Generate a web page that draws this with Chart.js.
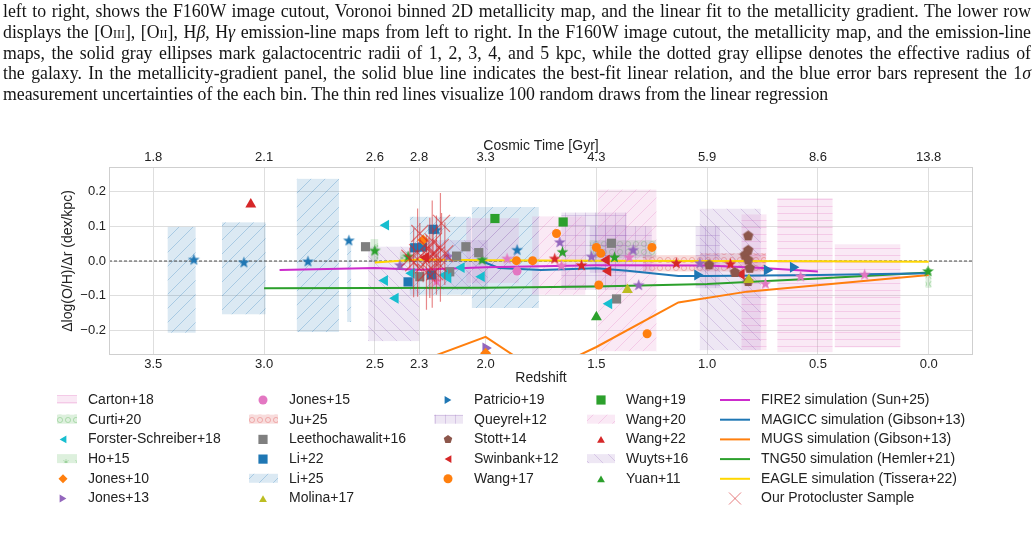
<!DOCTYPE html>
<html>
<head>
<meta charset="utf-8">
<script src="https://cdn.jsdelivr.net/npm/chart.js@4.4.1/dist/chart.umd.min.js"></script>
<style>
  html, body { margin:0; padding:0; background:#fff; }
  #page { position:relative; width:1036px; height:536px; overflow:hidden; }
  #grafico { position:absolute; left:0; top:0; }
  #legenda { position:absolute; left:3px; top:1px; width:1028px; font-family:"Liberation Serif","Times New Roman",serif; font-size:17.8px; line-height:20.8px; color:#141414; }
  #legenda div { white-space:nowrap; height:20.8px; }
  .sc { font-variant:small-caps; }
</style>
</head>
<body>
<div id="page">
  <canvas id="grafico" width="1036" height="536"></canvas>
  <div id="legenda">
    <div><span>left to right, shows the F160W image cutout, Voronoi binned 2D metallicity map, and the linear fit to the metallicity gradient. The lower row</span></div>
    <div><span>displays the [O<span class="sc">iii</span>], [O<span class="sc">ii</span>], H<i>β</i>, H<i>γ</i> emission-line maps from left to right. In the F160W image cutout, the metallicity map, and the emission-line</span></div>
    <div><span>maps, the solid gray ellipses mark galactocentric radii of 1, 2, 3, 4, and 5 kpc, while the dotted gray ellipse denotes the effective radius of</span></div>
    <div><span>the galaxy. In the metallicity-gradient panel, the solid blue line indicates the best-fit linear relation, and the blue error bars represent the 1<i>σ</i></span></div>
    <div class="fim"><span>measurement uncertainties of the each bin. The thin red lines visualize 100 random draws from the linear regression</span></div>
  </div>
</div>
<script>
// eixos
var zTicks = [3.5, 3.0, 2.5, 2.3, 2.0, 1.5, 1.0, 0.5, 0.0];
var cosmicTime = ["1.8", "2.1", "2.6", "2.8", "3.3", "4.3", "5.9", "8.6", "13.8"];
var gradTicks = [-0.2, -0.1, 0.0, 0.1, 0.2];

// caixas: [z_alto, z_baixo, grad_min, grad_max]
var carton18 = [[0.845, 0.732, -0.256, 0.134], [0.683, 0.434, -0.262, 0.181], [0.424, 0.128, -0.248, 0.048]];
var curti20 = [[1.53, 1.23, 0.01, 0.06], [0.014, -0.012, -0.077, -0.02]];
var ho15 = [[2.519, 2.485, -0.002, 0.063], [2.387, 2.342, -0.007, 0.027]];
var ju25 = [[1.29, 1.03, -0.03, 0.017], [1.03, 0.735, -0.03, 0.022]];
var li25 = [[3.435, 3.309, -0.206, 0.098], [3.19, 2.993, -0.153, 0.111], [2.852, 2.662, -0.204, 0.236],
            [2.625, 2.607, -0.175, 0.05], [2.342, 2.066, -0.097, 0.127], [2.062, 1.76, -0.135, 0.155]];
var queyrel12 = [[1.658, 1.364, -0.083, 0.139], [1.53, 1.25, -0.034, 0.1], [1.051, 0.943, -0.078, 0.1]];
var wang20 = [[1.494, 1.229, -0.259, 0.205], [1.79, 1.55, -0.097, 0.128], [2.087, 1.85, -0.063, 0.123]];
var wuyts16 = [[2.53, 2.30, -0.23, 0.041], [2.26, 1.99, -0.083, 0.06], [1.033, 0.758, -0.256, 0.15]];

// pontos observados
var forsterZ = [2.45, 2.455, 2.407, 2.334, 2.109, 2.018, 2.184, 2.169, 1.443];
var forsterG = [0.103, -0.056, -0.107, -0.035, -0.019, -0.045, -0.04, -0.048, -0.123];
var jones10Z = [2.282, 2.0];
var jones10G = [0.06, -0.265];
var jones13Z = [2.0];
var jones13G = [-0.25];
var jones15Z = [1.858];
var jones15G = [-0.029];
var leethoZ = [2.542, 2.089, 2.131, 2.031, 2.297, 2.162, 1.432, 1.409];
var leethoG = [0.041, 0.041, 0.014, 0.024, -0.045, -0.031, 0.051, -0.109];
var li22Z = [2.35, 2.32, 2.285, 2.244, 2.237];
var li22G = [-0.06, 0.038, 0.04, -0.04, 0.091];
var molinaZ = [1.36, 0.812];
var molinaG = [-0.083, -0.054];
var patricioZ = [1.044, 0.73, 0.612];
var patricioG = [-0.04, -0.026, -0.018];
var stottZ = [0.815, 0.815, 0.83, 0.815, 0.808, 0.875, 0.815, 0.991];
var stottG = [0.072, 0.031, 0.017, 0.003, -0.021, -0.033, -0.059, -0.011];
var swinbankZ = [1.454, 1.447, 0.845, 2.27];
var swinbankG = [0.003, -0.029, -0.038, 0.01];
var wang17Z = [1.68, 1.861, 1.788, 1.5, 1.48, 1.249, 1.489, 1.271];
var wang17G = [0.079, 0.001, 0.001, 0.039, 0.022, 0.039, -0.069, -0.209];
var wang19Z = [1.958, 1.65];
var wang19G = [0.122, 0.112];
var wang22Z = [3.06];
var wang22G = [0.163];
var yuanZ = [1.5];
var yuanG = [-0.161];

// estrelas (medianas das amostras)
var starBlueZ = [3.317, 3.091, 2.802, 2.617, 1.858, 2.222];
var starBlueG = [0.003, -0.005, -0.002, 0.058, 0.031, 0.089];
var starGreenZ = [2.5, 2.016, 1.653, 1.418, 0.003, 2.35];
var starGreenG = [0.029, 0.003, 0.025, 0.01, -0.03, 0.012];
var starPurpleZ = [2.387, 1.665, 1.522, 1.334, 1.309, 2.169, 1.033];
var starPurpleG = [-0.013, 0.053, 0.012, 0.031, -0.07, 0.012, -0.007];
var starRedZ = [1.688, 1.567, 1.139, 0.895];
var starRedG = [0.006, -0.013, -0.007, -0.009];
var starPinkZ = [1.903, 1.658, 1.352, 0.737, 0.578, 0.289, 2.222];
var starPinkG = [0.006, -0.014, 0.01, -0.066, -0.045, -0.04, -0.059];

// simulacoes
var fire2Z = [2.93, 2.5, 2.3, 2.0, 1.5, 1.0, 0.75, 0.5];
var fire2G = [-0.026, -0.02, -0.025, -0.018, -0.012, -0.013, -0.02, -0.03];
var magiccZ = [2.02, 1.94, 1.75, 1.5, 1.36, 1.13, 1.0, 0.5, 0.0];
var magiccG = [0.0, -0.02, -0.026, -0.021, -0.028, -0.043, -0.043, -0.04, -0.035];
var mugsZ = [2.5, 2.0, 1.75, 1.5, 1.13, 0.82, 0.0];
var mugsG = [-0.336, -0.218, -0.323, -0.247, -0.119, -0.088, -0.04];
var tng50Z = [3.0, 2.0, 1.5, 1.0, 0.5, 0.0];
var tng50G = [-0.078, -0.077, -0.073, -0.066, -0.05, -0.033];
var eagleZ = [2.5, 2.3, 2.0, 1.5, 1.0, 0.5, 0.0];
var eagleG = [-0.004, 0.004, 0.002, 0.001, 0.0, -0.001, -0.002];

// amostra de protoaglomerado
var protoZ = [2.307, 2.325, 2.267, 2.241, 2.204, 2.222, 2.252, 2.184, 2.199, 2.297, 2.259, 2.342, 2.229, 2.237, 2.214, 2.282];
var protoG = [0.024, -0.005, -0.033, 0.02, 0.039, 0.017, 0.009, 0.021, 0.108, 0.079, 0.036, 0.008, -0.031, 0.055, -0.007, -0.011];
var protoErr = [0.127, 0.099, 0.107, 0.154, 0.156, 0.114, 0.115, 0.09, 0.03, 0.03, 0.03, 0.03, 0.03, 0.04, 0.05, 0.05];

var zeroLineZ = [3.7, -0.2];

var fonte = "'Liberation Sans', Arial, Helvetica, sans-serif";

function pares(z, g) { return z.map(function (v, i) { return { x: v, y: g[i] }; }); }
function rgba(c, a) { return "rgba(" + c[0] + "," + c[1] + "," + c[2] + "," + a + ")"; }

function poligono(cor, R, n, interno) {
    var c = document.createElement("canvas");
    var s = Math.ceil(2 * R + 2);
    c.width = s; c.height = s;
    var g = c.getContext("2d");
    g.fillStyle = cor;
    g.beginPath();
    var k = interno ? 2 * n : n;
    for (var i = 0; i < k; i++) {
        var r = (interno && i % 2) ? R * interno : R;
        var a = -Math.PI / 2 + i * 2 * Math.PI / k;
        g.lineTo(s / 2 + r * Math.cos(a), s / 2 + r * Math.sin(a));
    }
    g.closePath();
    g.fill();
    return c;
}

var padroes = {};
function padrao(tipo, cor) {
    var chave = tipo + cor.join(",");
    if (padroes[chave]) return padroes[chave];
    var c = document.createElement("canvas");
    var g = c.getContext("2d");
    var s = 14;
    if (tipo == "-") { c.width = 8; c.height = 7; }
    else if (tipo == "+") { c.width = 10; c.height = 10; }
    else if (tipo == "o") { c.width = 8; c.height = 8; }
    else if (tipo == "*") { c.width = 12; c.height = 12; }
    else { c.width = s; c.height = s; }
    g.strokeStyle = rgba(cor, 0.27);
    g.lineWidth = 1;
    g.beginPath();
    if (tipo == "/") {
        g.moveTo(0, s); g.lineTo(s, 0);
        g.moveTo(-s / 2, s / 2); g.lineTo(s / 2, -s / 2);
        g.moveTo(s / 2, s * 1.5); g.lineTo(s * 1.5, s / 2);
    } else if (tipo == "\\") {
        g.moveTo(0, 0); g.lineTo(s, s);
        g.moveTo(-s / 2, s / 2); g.lineTo(s / 2, s * 1.5);
        g.moveTo(s / 2, -s / 2); g.lineTo(s * 1.5, s / 2);
    } else if (tipo == "-") {
        g.moveTo(0, 3.5); g.lineTo(8, 3.5);
    } else if (tipo == "+") {
        g.moveTo(0, 5.5); g.lineTo(10, 5.5);
        g.moveTo(5.5, 0); g.lineTo(5.5, 10);
    } else if (tipo == "o") {
        g.arc(4, 4, 2.6, 0, Math.PI * 2);
    } else if (tipo == "*") {
        for (var i = 0; i < 3; i++) {
            var a = i * Math.PI / 3 + Math.PI / 2;
            g.moveTo(6 - 3 * Math.cos(a), 6 - 3 * Math.sin(a));
            g.lineTo(6 + 3 * Math.cos(a), 6 + 3 * Math.sin(a));
        }
    }
    g.stroke();
    padroes[chave] = g.createPattern(c, "repeat");
    return padroes[chave];
}

var AZUL = "#1f77b4", LARANJA = "#ff7f0e", VERDE = "#2ca02c", VERMELHO = "#d62728", ROXO = "#9467bd",
    MARROM = "#8c564b", ROSA = "#e377c2", CINZA = "#7f7f7f", OLIVA = "#bcbd22", CIANO = "#17becf";

var conjuntosCaixa = [
    { label: "Carton+18", caixas: carton18, cor: [227, 119, 194], hachura: "-" },
    { label: "Curti+20", caixas: curti20, cor: [44, 160, 44], hachura: "o" },
    { label: "Ho+15", caixas: ho15, cor: [44, 160, 44], hachura: "*" },
    { label: "Ju+25", caixas: ju25, cor: [214, 39, 40], hachura: "o" },
    { label: "Li+25", caixas: li25, cor: [31, 119, 180], hachura: "/" },
    { label: "Queyrel+12", caixas: queyrel12, cor: [148, 103, 189], hachura: "+" },
    { label: "Wang+20", caixas: wang20, cor: [227, 119, 194], hachura: "/" },
    { label: "Wuyts+16", caixas: wuyts16, cor: [148, 103, 189], hachura: "\\" }
];

var conjuntosMarca = [
    { label: "Forster-Schreiber+18", z: forsterZ, g: forsterG, cor: CIANO, forma: "triangle", rot: -90, r: 6.3 },
    { label: "Jones+10", z: jones10Z, g: jones10G, cor: LARANJA, forma: "rectRot", rot: 0, r: 5.5 },
    { label: "Jones+13", z: jones13Z, g: jones13G, cor: ROXO, forma: "triangle", rot: 90, r: 6.3 },
    { label: "Jones+15", z: jones15Z, g: jones15G, cor: ROSA, forma: "circle", rot: 0, r: 4.5 },
    { label: "Leethochawalit+16", z: leethoZ, g: leethoG, cor: CINZA, forma: "rect", rot: 0, r: 6.5 },
    { label: "Li+22", z: li22Z, g: li22G, cor: AZUL, forma: "rect", rot: 0, r: 6.5 },
    { label: "Molina+17", z: molinaZ, g: molinaG, cor: OLIVA, forma: "triangle", rot: 0, r: 6.3 },
    { label: "Patricio+19", z: patricioZ, g: patricioG, cor: AZUL, forma: "triangle", rot: 90, r: 6.3 },
    { label: "Stott+14", z: stottZ, g: stottG, cor: MARROM, forma: "pentagon", rot: 0, r: 5.5 },
    { label: "Swinbank+12", z: swinbankZ, g: swinbankG, cor: VERMELHO, forma: "triangle", rot: -90, r: 6.3 },
    { label: "Wang+17", z: wang17Z, g: wang17G, cor: LARANJA, forma: "circle", rot: 0, r: 4.5 },
    { label: "Wang+19", z: wang19Z, g: wang19G, cor: VERDE, forma: "rect", rot: 0, r: 6.5 },
    { label: "Wang+22", z: wang22Z, g: wang22G, cor: VERMELHO, forma: "triangle", rot: 0, r: 6.3 },
    { label: "Yuan+11", z: yuanZ, g: yuanG, cor: VERDE, forma: "triangle", rot: 0, r: 6.3 }
];

var conjuntosEstrela = [
    { z: starBlueZ, g: starBlueG, cor: AZUL },
    { z: starGreenZ, g: starGreenG, cor: VERDE },
    { z: starPurpleZ, g: starPurpleG, cor: ROXO },
    { z: starRedZ, g: starRedG, cor: VERMELHO },
    { z: starPinkZ, g: starPinkG, cor: ROSA }
];

var conjuntosLinha = [
    { label: "FIRE2 simulation (Sun+25)", z: fire2Z, g: fire2G, cor: "#cc2ccc" },
    { label: "MAGICC simulation (Gibson+13)", z: magiccZ, g: magiccG, cor: AZUL },
    { label: "MUGS simulation (Gibson+13)", z: mugsZ, g: mugsG, cor: LARANJA },
    { label: "TNG50 simulation (Hemler+21)", z: tng50Z, g: tng50G, cor: VERDE },
    { label: "EAGLE simulation (Tissera+22)", z: eagleZ, g: eagleG, cor: "#ffd700" }
];

var colunasLegenda = [
    ["Carton+18", "Curti+20", "Forster-Schreiber+18", "Ho+15", "Jones+10", "Jones+13"],
    ["Jones+15", "Ju+25", "Leethochawalit+16", "Li+22", "Li+25", "Molina+17"],
    ["Patricio+19", "Queyrel+12", "Stott+14", "Swinbank+12", "Wang+17"],
    ["Wang+19", "Wang+20", "Wang+22", "Wuyts+16", "Yuan+11"],
    ["FIRE2 simulation (Sun+25)", "MAGICC simulation (Gibson+13)", "MUGS simulation (Gibson+13)",
     "TNG50 simulation (Hemler+21)", "EAGLE simulation (Tissera+22)", "Our Protocluster Sample"]
];

function estiloPonto(m) {
    if (m.forma == "pentagon") return poligono(m.cor, m.r, 5, 0);
    return m.forma;
}

var datasets = [];
datasets.push({ label: "zero", data: pares(zeroLineZ, [0, 0]), showLine: true, borderColor: "#222", borderWidth: 0.8,
    borderDash: [3, 2], pointRadius: 0, order: 60 });
conjuntosLinha.forEach(function (l) {
    datasets.push({ label: l.label, data: pares(l.z, l.g), showLine: true, borderColor: l.cor, borderWidth: 2,
        pointRadius: 0, order: 50 });
});
conjuntosEstrela.forEach(function (s) {
    datasets.push({ label: "star", data: pares(s.z, s.g), pointStyle: poligono(s.cor, 6.2, 5, 0.4),
        pointRadius: 6, order: 30 });
});
conjuntosMarca.forEach(function (m) {
    datasets.push({ label: m.label, data: pares(m.z, m.g), pointStyle: estiloPonto(m), rotation: m.rot,
        pointRadius: m.r, backgroundColor: m.cor, borderWidth: 0, order: 20 });
});
datasets.push({ label: "Our Protocluster Sample", data: pares(protoZ, protoG), pointStyle: "crossRot",
    pointRadius: 12, borderColor: "rgba(214,39,40,0.6)", borderWidth: 1.2, order: 10 });

var pluginCaixas = {
    id: "caixas",
    beforeDatasetsDraw: function (chart) {
        var ctx = chart.ctx, a = chart.chartArea, sx = chart.scales.x, sy = chart.scales.y;
        ctx.save();
        ctx.beginPath();
        ctx.rect(a.left, a.top, a.right - a.left, a.bottom - a.top);
        ctx.clip();
        conjuntosCaixa.forEach(function (c) {
            c.caixas.forEach(function (b) {
                var x0 = sx.getPixelForValue(b[0]), x1 = sx.getPixelForValue(b[1]);
                var y0 = sy.getPixelForValue(b[3]), y1 = sy.getPixelForValue(b[2]);
                ctx.fillStyle = rgba(c.cor, 0.16);
                ctx.fillRect(x0, y0, x1 - x0, y1 - y0);
                ctx.fillStyle = padrao(c.hachura, c.cor);
                ctx.fillRect(x0, y0, x1 - x0, y1 - y0);
            });
        });
        ctx.restore();
    },
    afterDatasetsDraw: function (chart) {
        var ctx = chart.ctx, a = chart.chartArea, sx = chart.scales.x, sy = chart.scales.y;
        ctx.save();
        ctx.strokeStyle = "rgba(214,39,40,0.55)";
        ctx.lineWidth = 1.2;
        ctx.beginPath();
        for (var i = 0; i < protoZ.length; i++) {
            var x = sx.getPixelForValue(protoZ[i]);
            ctx.moveTo(x, sy.getPixelForValue(protoG[i] - protoErr[i]));
            ctx.lineTo(x, sy.getPixelForValue(protoG[i] + protoErr[i]));
        }
        ctx.stroke();
        // moldura
        ctx.strokeStyle = "#cfcfcf";
        ctx.lineWidth = 1;
        ctx.strokeRect(Math.round(a.left) + 0.5, Math.round(a.top) + 0.5, Math.round(a.right - a.left) - 1, Math.round(a.bottom - a.top) - 1);
        ctx.restore();
    }
};

function desenhaMarca(ctx, m, x, y, r) {
    ctx.save();
    ctx.translate(x, y);
    ctx.rotate(m.rot * Math.PI / 180);
    ctx.fillStyle = m.cor;
    ctx.beginPath();
    if (m.forma == "circle") ctx.arc(0, 0, r, 0, Math.PI * 2);
    else if (m.forma == "rect") { var s = r * Math.SQRT1_2; ctx.rect(-s, -s, 2 * s, 2 * s); }
    else if (m.forma == "rectRot") { ctx.moveTo(0, -r); ctx.lineTo(r, 0); ctx.lineTo(0, r); ctx.lineTo(-r, 0); }
    else if (m.forma == "triangle") {
        for (var i = 0; i < 3; i++) { var a = i * 2 * Math.PI / 3; ctx.lineTo(r * Math.sin(a), -r * Math.cos(a) + r * 0.25); }
    } else if (m.forma == "pentagon") {
        for (var j = 0; j < 5; j++) { var b = -Math.PI / 2 + j * 2 * Math.PI / 5; ctx.lineTo(r * Math.cos(b), r * Math.sin(b)); }
    }
    ctx.closePath();
    ctx.fill();
    ctx.restore();
}

var pluginLegenda = {
    id: "legendaColunas",
    afterDraw: function (chart) {
        var ctx = chart.ctx;
        var iconeX = [63, 263, 448, 601, 735];
        var caixaX = [[57, 20], [249, 29], [434, 29], [587, 28], [720, 30]];
        var textoX = [88, 289, 474, 626, 761];
        var y0 = 400, dy = 19.7;
        ctx.save();
        ctx.font = "14px " + fonte;
        ctx.textBaseline = "middle";
        ctx.fillStyle = "#222";
        colunasLegenda.forEach(function (col, ci) {
            col.forEach(function (nome, ri) {
                var y = y0 + ri * dy;
                var cx = conjuntosCaixa.find(function (c) { return c.label == nome; });
                var mk = conjuntosMarca.find(function (c) { return c.label == nome; });
                var ln = conjuntosLinha.find(function (c) { return c.label == nome; });
                if (cx) {
                    ctx.fillStyle = rgba(cx.cor, 0.16);
                    ctx.fillRect(caixaX[ci][0], y - 5, caixaX[ci][1], 9);
                    ctx.fillStyle = padrao(cx.hachura, cx.cor);
                    ctx.fillRect(caixaX[ci][0], y - 5, caixaX[ci][1], 9);
                } else if (mk) {
                    desenhaMarca(ctx, mk, iconeX[ci], y, mk.forma == "rect" ? 6.5 : 4.5);
                } else if (ln) {
                    ctx.strokeStyle = ln.cor;
                    ctx.lineWidth = 2;
                    ctx.beginPath();
                    ctx.moveTo(caixaX[ci][0], y); ctx.lineTo(caixaX[ci][0] + caixaX[ci][1], y);
                    ctx.stroke();
                } else {
                    ctx.strokeStyle = "rgba(214,39,40,0.6)";
                    ctx.lineWidth = 1;
                    ctx.beginPath();
                    ctx.moveTo(iconeX[ci] - 6, y - 6); ctx.lineTo(iconeX[ci] + 6, y + 6);
                    ctx.moveTo(iconeX[ci] + 6, y - 6); ctx.lineTo(iconeX[ci] - 6, y + 6);
                    ctx.stroke();
                }
                ctx.fillStyle = "#222";
                ctx.fillText(nome, textoX[ci], y);
            });
        });
        ctx.restore();
    }
};

function fixaTicks(lista) {
    return function (s) { s.ticks = lista.map(function (v) { return { value: v }; }); };
}

// justifica as linhas da legenda do artigo
function justificaTexto() {
    var largura = 1028;
    var linhas = document.querySelectorAll("#legenda > div");
    for (var i = 0; i < linhas.length; i++) {
        if (linhas[i].className == "fim") continue;
        var span = linhas[i].firstElementChild;
        var w = span.getBoundingClientRect().width;
        var espacos = span.textContent.split(" ").length - 1;
        span.style.wordSpacing = ((largura - w) / espacos) + "px";
    }
}

window.addEventListener("load", function () {
    justificaTexto();
    Chart.defaults.font.family = fonte;
    Chart.defaults.color = "#222";
    new Chart(document.getElementById("grafico"), {
        type: "scatter",
        data: { datasets: datasets },
        plugins: [pluginCaixas, pluginLegenda],
        options: {
            responsive: false,
            animation: false,
            layout: { padding: { left: 52, right: 63, top: 130, bottom: 148 } },
            plugins: { legend: { display: false }, tooltip: { enabled: false } },
            scales: {
                x: {
                    type: "linear", position: "bottom", reverse: true, min: -0.2, max: 3.7,
                    afterBuildTicks: fixaTicks(zTicks),
                    afterFit: function (s) { s.height = 33; },
                    ticks: { autoSkip: false, maxRotation: 0, padding: 2, font: { size: 13 },
                        callback: function (v) { return Number(v).toFixed(1); } },
                    grid: { color: "#dedede", drawTicks: false },
                    border: { display: false },
                    title: { display: true, text: "Redshift", font: { size: 14 }, padding: { top: 0, bottom: 1.6 } }
                },
                x2: {
                    type: "linear", position: "top", reverse: true, min: -0.2, max: 3.7,
                    afterBuildTicks: fixaTicks(zTicks),
                    afterFit: function (s) { s.height = 37; },
                    ticks: { autoSkip: false, maxRotation: 0, padding: 2, font: { size: 13 },
                        callback: function (v, i) { return cosmicTime[i]; } },
                    grid: { display: false, drawTicks: false },
                    border: { display: false },
                    title: { display: true, text: "Cosmic Time [Gyr]", font: { size: 14 }, padding: { top: 7.5, bottom: 0 } }
                },
                y: {
                    min: -0.27, max: 0.27,
                    afterBuildTicks: fixaTicks(gradTicks),
                    afterFit: function (s) { s.width = 57; },
                    ticks: { padding: 3, font: { size: 13 },
                        callback: function (v) { return v < 0 ? "\u2212" + Math.abs(v).toFixed(1) : Math.abs(v).toFixed(1); } },
                    grid: { color: "#dedede", drawTicks: false },
                    border: { display: false },
                    title: { display: true, text: "\u0394log(O/H)/\u0394r (dex/kpc)", font: { size: 14 }, padding: { top: 7.6, bottom: 0 } }
                }
            }
        }
    });
});
</script>
</body>
</html>
